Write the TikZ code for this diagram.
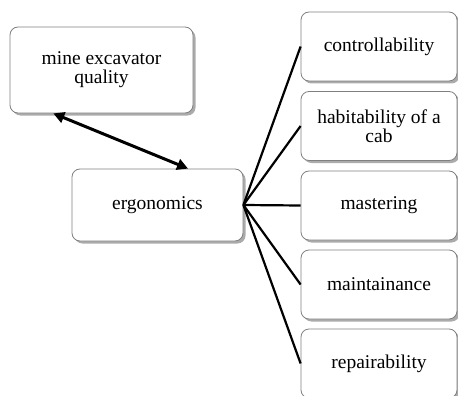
\documentclass[tikz,border=0pt]{standalone}
\usepackage{fontspec}
\setmainfont{Liberation Serif}
\usetikzlibrary{shadows,arrows.meta}
\tikzset{
  box/.style={draw=black!50, line width=0.8pt, rounded corners=8pt, fill=white,
    drop shadow={shadow xshift=2.5pt, shadow yshift=-2.5pt, opacity=0.55, fill=black!60},
    align=center, inner sep=2pt, font=\fontsize{19.5}{19}\selectfont},
  rbox/.style={box, minimum width=156pt, minimum height=69pt},
  link/.style={line width=2.2pt, black},
  dbl/.style={line width=3pt, black, {Triangle[length=11pt,width=11pt]}-{Triangle[length=11pt,width=11pt]}}
}
\begin{document}
\begin{tikzpicture}[x=1pt,y=-1pt]
\useasboundingbox (0,0) rectangle (458,396);
\node[box, minimum width=183pt, minimum height=86pt] (meq) at (101.5,70) {mine excavator\\quality};
\node[box, minimum width=171pt, minimum height=72pt] (ergo) at (157.5,205) {ergonomics};
\node[rbox] (c1) at (379,46.5) {controllability};
\node[rbox] (c2) at (379,126) {habitability of a\\cab};
\node[rbox] (c3) at (379,205.5) {mastering};
\node[rbox] (c4) at (379,284.5) {maintainance};
\node[rbox] (c5) at (379,363.5) {repairability};
\draw[dbl] (meq.222.8) -- (ergo.50.7);
\foreach \n in {c1,c2,c3,c4,c5}{\draw[link] (ergo.east) -- (\n.west);}
\end{tikzpicture}
\end{document}
